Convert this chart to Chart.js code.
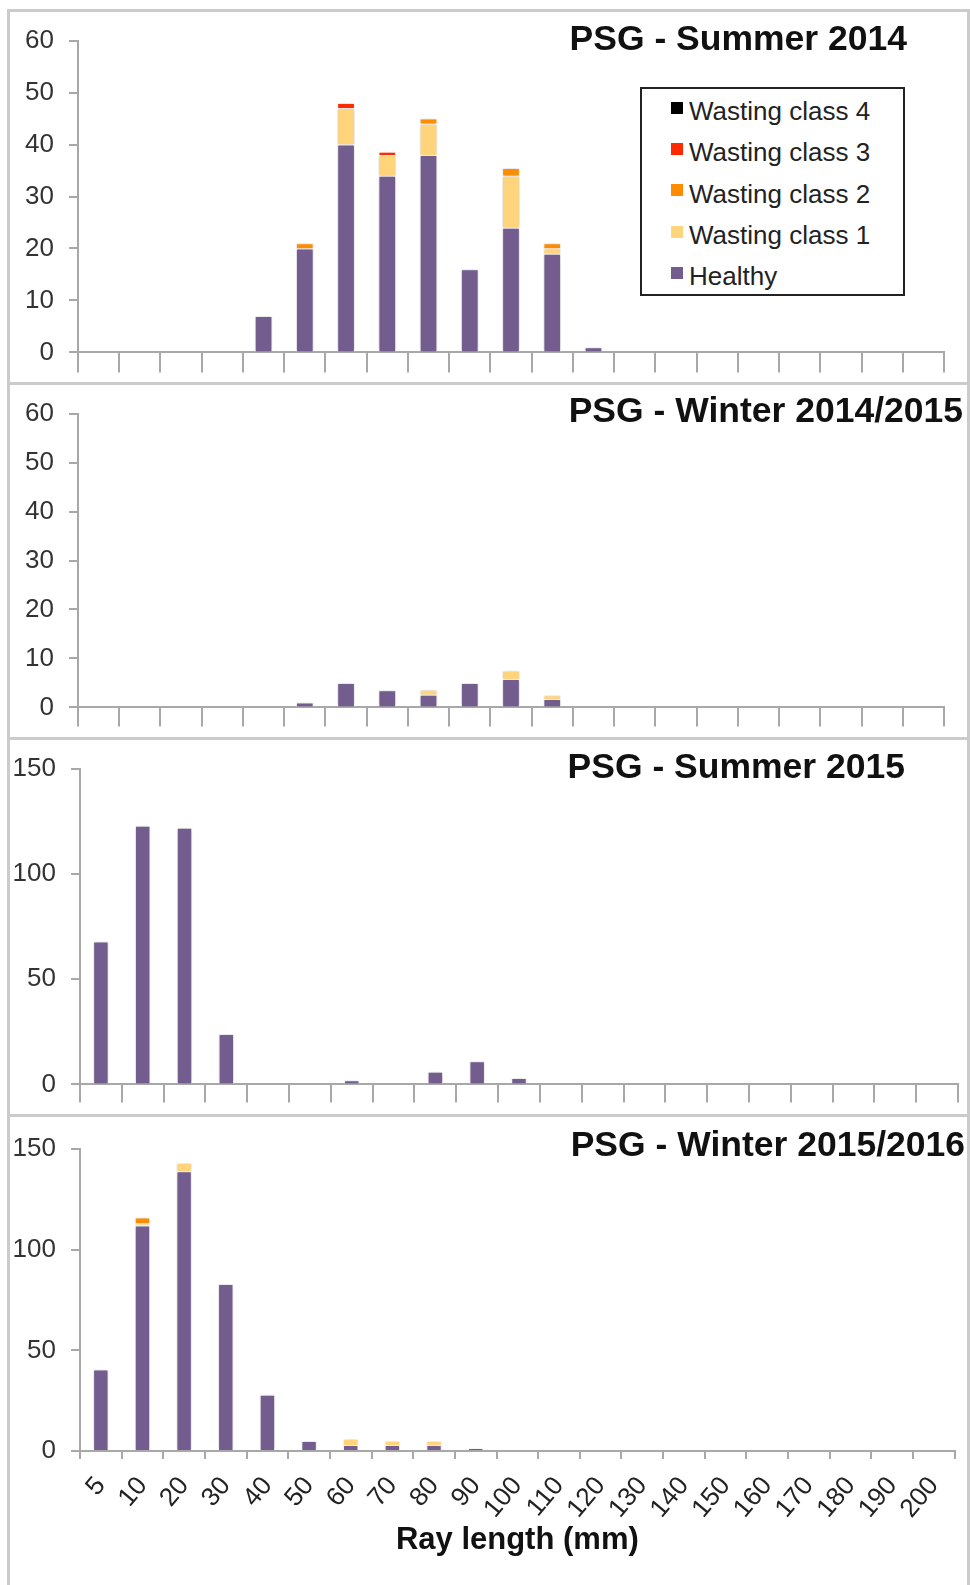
<!DOCTYPE html>
<html>
<head>
<meta charset="utf-8">
<title>PSG - ray length by wasting class</title>
<script src="https://cdn.jsdelivr.net/npm/chart.js@4.4.1/dist/chart.umd.min.js"></script>
<style>
  html, body { margin: 0; padding: 0; background: #fff; }
  body { position: relative; width: 970px; height: 1585px; overflow: hidden;
         font-family: "Liberation Sans", Arial, Helvetica, sans-serif; }
  .frame { position: absolute; left: 7px; top: 9px; width: 963px; height: 1600px;
           border: 3px solid #cbcbcb; box-sizing: border-box; }
  .sep { position: absolute; left: 7px; width: 963px; height: 3px; background: #cbcbcb; }
  canvas { position: absolute; left: 0; }
  #legend { position: absolute; left: 640px; top: 87px; width: 265px; height: 209px;
            border: 2px solid #222; box-sizing: border-box; background: #fff; padding-top: 2px; }
  #legend .row { height: 41.3px; display: flex; align-items: center; padding-left: 29px;
                 font-size: 26px; color: #222; white-space: nowrap; }
  #legend .sw { width: 12px; height: 12px; margin-right: 6px; margin-top: -8px; flex: none; }
</style>
</head>
<body>
<div class="frame"></div>
<div class="sep" style="top:382px"></div>
<div class="sep" style="top:737px"></div>
<div class="sep" style="top:1114px"></div>

<canvas id="summer2014" width="970" height="373" style="top:10px"></canvas>
<canvas id="winter2014" width="970" height="355" style="top:383px"></canvas>
<canvas id="summer2015" width="970" height="377" style="top:738px"></canvas>
<canvas id="winter2015" width="970" height="470" style="top:1115px"></canvas>

<div id="legend"></div>

<script>
// size classes (mm)
const rayLengths = ['5', '10', '20', '30', '40', '50', '60', '70', '80', '90', '100',
  '110', '120', '130', '140', '150', '160', '170', '180', '190', '200'];

const seriesNames = ['Healthy', 'Wasting class 1', 'Wasting class 2', 'Wasting class 3', 'Wasting class 4'];
const seriesColors = ['#735d8f', '#ffd47a', '#ff8c00', '#ff2a00', '#000000'];

// PSG - Summer 2014
const s14Healthy = [0, 0, 0, 0, 7, 20, 40, 34, 38, 16, 24, 19, 1, 0, 0, 0, 0, 0, 0, 0, 0];
const s14Class1  = [0, 0, 0, 0, 0, 0, 7, 4, 6, 0, 10, 1, 0, 0, 0, 0, 0, 0, 0, 0, 0];
const s14Class2  = [0, 0, 0, 0, 0, 1, 0, 0, 1, 0, 1.5, 1, 0, 0, 0, 0, 0, 0, 0, 0, 0];
const s14Class3  = [0, 0, 0, 0, 0, 0, 1, 0.6, 0, 0, 0, 0, 0, 0, 0, 0, 0, 0, 0, 0, 0];
const s14Class4  = [0, 0, 0, 0, 0, 0, 0, 0, 0, 0, 0, 0, 0, 0, 0, 0, 0, 0, 0, 0, 0];

// PSG - Winter 2014/2015
const w14Healthy = [0, 0, 0, 0, 0, 1, 5, 3.5, 2.6, 5, 5.8, 1.7, 0, 0, 0, 0, 0, 0, 0, 0, 0];
const w14Class1  = [0, 0, 0, 0, 0, 0, 0, 0, 1, 0, 1.7, 0.8, 0, 0, 0, 0, 0, 0, 0, 0, 0];
const w14Class2  = [0, 0, 0, 0, 0, 0, 0, 0, 0, 0, 0, 0, 0, 0, 0, 0, 0, 0, 0, 0, 0];
const w14Class3  = [0, 0, 0, 0, 0, 0, 0, 0, 0, 0, 0, 0, 0, 0, 0, 0, 0, 0, 0, 0, 0];
const w14Class4  = [0, 0, 0, 0, 0, 0, 0, 0, 0, 0, 0, 0, 0, 0, 0, 0, 0, 0, 0, 0, 0];

// PSG - Summer 2015
const s15Healthy = [68, 123, 122, 24, 0, 0, 2, 0, 6, 11, 3, 0, 0, 0, 0, 0, 0, 0, 0, 0, 0];
const s15Class1  = [0, 0, 0, 0, 0, 0, 0, 0, 0, 0, 0, 0, 0, 0, 0, 0, 0, 0, 0, 0, 0];
const s15Class2  = [0, 0, 0, 0, 0, 0, 0, 0, 0, 0, 0, 0, 0, 0, 0, 0, 0, 0, 0, 0, 0];
const s15Class3  = [0, 0, 0, 0, 0, 0, 0, 0, 0, 0, 0, 0, 0, 0, 0, 0, 0, 0, 0, 0, 0];
const s15Class4  = [0, 0, 0, 0, 0, 0, 0, 0, 0, 0, 0, 0, 0, 0, 0, 0, 0, 0, 0, 0, 0];

// PSG - Winter 2015/2016
const w15Healthy = [40.5, 112, 139, 83, 28, 5, 3, 3, 3, 1.5, 0, 0, 0, 0, 0, 0, 0, 0, 0, 0, 0];
const w15Class1  = [0, 1, 4, 0, 0, 0, 3, 2, 2, 0, 0, 0, 0, 0, 0, 0, 0, 0, 0, 0, 0];
const w15Class2  = [0, 3, 0, 0, 0, 0, 0, 0, 0, 0, 0, 0, 0, 0, 0, 0, 0, 0, 0, 0, 0];
const w15Class3  = [0, 0, 0, 0, 0, 0, 0, 0, 0, 0, 0, 0, 0, 0, 0, 0, 0, 0, 0, 0, 0];
const w15Class4  = [0, 0, 0, 0, 0, 0, 0, 0, 0, 0, 0, 0, 0, 0, 0, 0, 0, 0, 0, 0, 0];

const yTicks60 = [0, 10, 20, 30, 40, 50, 60];
const yTicks150 = [0, 50, 100, 150];

const FONT = '"Liberation Sans", Arial, Helvetica, sans-serif';
const AXIS_GREY = '#a8a8a8';
Chart.defaults.font.family = FONT;

// bold panel title in the top right corner
const cornerTitle = {
  id: 'cornerTitle',
  afterDraw(chart, args, opts) {
    const ctx = chart.ctx;
    ctx.save();
    ctx.font = 'bold 35.5px ' + FONT;
    ctx.fillStyle = '#111';
    ctx.textAlign = 'right';
    ctx.textBaseline = 'alphabetic';
    ctx.fillText(opts.text, opts.x, opts.y);
    ctx.restore();
  }
};

// soft grey glow round the bars, like the spreadsheet export
const barGlow = {
  id: 'barGlow',
  beforeDatasetsDraw(chart) {
    const ctx = chart.ctx;
    ctx.save();
    ctx.shadowColor = 'rgba(0,0,0,0.22)';
    ctx.shadowBlur = 4;
  },
  afterDatasetsDraw(chart) {
    chart.ctx.restore();
  }
};

function makePanel(id, series, p) {
  const ctx = document.getElementById(id).getContext('2d');
  const yTicks = p.yTicks;
  return new Chart(ctx, {
    type: 'bar',
    data: {
      labels: rayLengths,
      datasets: series.map((values, i) => ({
        label: seriesNames[i],
        data: values,
        backgroundColor: seriesColors[i],
        borderColor: '#ffffff',
        borderWidth: 1,
        barPercentage: p.barPct,
        categoryPercentage: 1
      }))
    },
    plugins: [cornerTitle, barGlow],
    options: {
      responsive: false,
      animation: false,
      events: [],
      layout: {
        padding: { top: p.padTop, right: p.padRight, bottom: p.padBottom, left: 0 }
      },
      plugins: {
        legend: { display: false },
        tooltip: { enabled: false },
        cornerTitle: { text: p.title, x: p.titleX, y: p.titleY }
      },
      scales: {
        x: {
          stacked: true,
          ticks: {
            display: p.showLabels,
            autoSkip: false,
            minRotation: 50,
            maxRotation: 50,
            padding: 12,
            color: '#222',
            font: { size: 26 }
          },
          grid: {
            offset: true,
            drawOnChartArea: false,
            drawTicks: true,
            tickLength: p.xTickLen,
            color: AXIS_GREY,
            lineWidth: 2
          },
          border: { display: true, color: AXIS_GREY, width: 2 },
          title: {
            display: p.showLabels,
            text: 'Ray length (mm)',
            color: '#111',
            font: { size: 31, weight: 'bold' },
            padding: { top: 0, bottom: 26 }
          },
          afterFit: function(scale) { scale.height = p.xHeight; }
        },
        y: {
          stacked: true,
          min: yTicks[0],
          max: yTicks[yTicks.length - 1],
          afterBuildTicks: function(scale) {
            scale.ticks = yTicks.map(v => ({ value: v }));
          },
          ticks: {
            color: '#333',
            padding: 15,
            font: { size: 26 }
          },
          grid: {
            drawOnChartArea: false,
            drawTicks: true,
            tickLength: 9,
            color: AXIS_GREY,
            lineWidth: 2
          },
          border: { display: true, color: AXIS_GREY, width: 2 },
          afterFit: function(scale) { scale.width = p.axisX; }
        }
      }
    }
  });
}

document.addEventListener('DOMContentLoaded', function() {
  makePanel('summer2014', [s14Healthy, s14Class1, s14Class2, s14Class3, s14Class4], {
    title: 'PSG - Summer 2014', titleX: 907, titleY: 40,
    yTicks: yTicks60, barPct: 0.43, axisX: 78,
    padTop: 28, padRight: 26, padBottom: 10, xHeight: 20, xTickLen: 20, showLabels: false
  });

  makePanel('winter2014', [w14Healthy, w14Class1, w14Class2, w14Class3, w14Class4], {
    title: 'PSG - Winter 2014/2015', titleX: 963, titleY: 39,
    yTicks: yTicks60, barPct: 0.43, axisX: 78,
    padTop: 29, padRight: 26, padBottom: 11, xHeight: 19, xTickLen: 19, showLabels: false
  });

  makePanel('summer2015', [s15Healthy, s15Class1, s15Class2, s15Class3, s15Class4], {
    title: 'PSG - Summer 2015', titleX: 905, titleY: 40,
    yTicks: yTicks150, barPct: 0.37, axisX: 80,
    padTop: 31, padRight: 12, padBottom: 12, xHeight: 18, xTickLen: 18, showLabels: false
  });

  makePanel('winter2015', [w15Healthy, w15Class1, w15Class2, w15Class3, w15Class4], {
    title: 'PSG - Winter 2015/2016', titleX: 965, titleY: 41,
    yTicks: yTicks150, barPct: 0.37, axisX: 80,
    padTop: 34, padRight: 10, padBottom: 0, xHeight: 134, xTickLen: 8, showLabels: true
  });

  // legend box (top panel), classes listed top-down from class 4
  const legend = document.getElementById('legend');
  for (let i = seriesNames.length - 1; i >= 0; i--) {
    const row = document.createElement('div');
    row.className = 'row';
    row.innerHTML = '<span class="sw" style="background:' + seriesColors[i] + '"></span>' + seriesNames[i];
    legend.appendChild(row);
  }
});
</script>
</body>
</html>
